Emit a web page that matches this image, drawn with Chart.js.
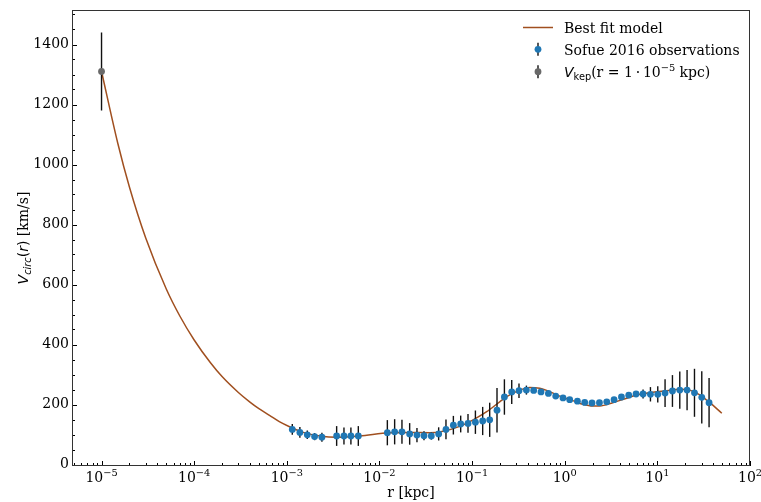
<!DOCTYPE html>
<html><head><meta charset="utf-8">
<script src="https://cdn.jsdelivr.net/npm/chart.js@4/dist/chart.umd.min.js"></script>
<style>html,body{margin:0;padding:0;background:#fff}#wrap{width:761px;height:502px}</style>
</head><body><div id="wrap"><canvas id="c" width="761" height="502"></canvas></div>
<script>
// ---- data ----
const sofueR = [0.001146,0.001384,0.001664,0.001995,0.002393,0.003451,0.004140,0.004920,0.005916,
  0.01217,0.01459,0.01750,0.02119,0.02541,0.03026,0.03631,0.04357,0.05226,0.06281,0.07534,0.09036,
  0.1086,0.1301,0.1549,0.1858,0.2233,0.2679,0.3209,0.3858,0.4625,0.5546,0.6668,0.7995,0.9586,
  1.132,1.371,1.644,1.971,2.369,2.842,3.408,4.096,4.911,5.888,7.010,8.420,10.10,12.11,14.55,17.46,
  20.93,25.16,30.16,36.16];
const sofueV = [117,107,99,93,91,95,95,95,95,
  106,109,109,102,98,96,95,102,117,131,135,137,
  141,145,149,181,225,242,246,248,247,242,237,228,222,
  216,211,207,205,206,209,216,225,231,235,235,234,234,238,245,248,
  248,239,224,206];
const sofueErr = [18,18,14,12,15,33,28,28,33,
  42,42,40,36,24,15,12,22,33,31,28,31,
  39,47,57,74,59,40,24,15,8,6,6,6,6,
  6,5,5,5,5,5,5,5,5,5,15,24,27,46,53,62,
  67,80,87,82];
const kepR = [1e-5];
const kepV = [1310];
const kepErr = [130];
const modelR = [1e-5,1.5e-5,2e-5,3e-5,5e-5,7e-5,1e-4,1.5e-4,2e-4,3e-4,4e-4,5e-4,6.5e-4,8.3e-4,
  1.07e-3,1.5e-3,2.38e-3,3.45e-3,6.1e-3,0.0129,0.0212,0.0348,0.0447,0.0735,0.1015,0.1438,0.1987,
  0.2366,0.3267,0.4188,0.537,0.689,0.883,1.22,1.564,2.006,2.387,3.30,4.67,6.46,8.92,12.6,17.5,
  22.4,28.7,36.8,49.6];
const modelV = [1310,1070,925,755,585,495,415,339,293,240,208,186,164,143,
  126,107,94,91,95,106,107,106,108,127,148,176,209,
  226,248,257,254,243,228,213,201,195,195,206,221,234,241,246,251,
  248,232,206,171];
const xTickExps = [-5,-4,-3,-2,-1,0,1,2];
const yTicks = [0,200,400,600,800,1000,1200,1400];

const BROWN = '#a04f1f', BLUE = '#1f77b4', GRAY = '#696969';

const errPlugin = {
  id:'errbars',
  beforeDatasetDraw(chart, args){
    const ds = chart.data.datasets[args.index];
    if(!ds.errs) return;
    const xs = chart.scales.x, ys = chart.scales.y, ctx = chart.ctx;
    ctx.save();
    ctx.strokeStyle = '#111'; ctx.lineWidth = 1.4;
    ds.data.forEach((p,i)=>{
      const px = xs.getPixelForValue(p.x);
      ctx.beginPath();
      ctx.moveTo(px, ys.getPixelForValue(p.y - ds.errs[i]));
      ctx.lineTo(px, ys.getPixelForValue(p.y + ds.errs[i]));
      ctx.stroke();
    });
    ctx.restore();
  }
};

function drawParts(ctx, parts, x, y){
  parts.forEach(p=>{ctx.font=p.f; ctx.fillText(p.t, x, y+(p.dy||0)); x += ctx.measureText(p.t).width;});
}
function partsWidth(ctx, parts){
  let w=0; parts.forEach(p=>{ctx.font=p.f; w+=ctx.measureText(p.t).width;}); return w;
}

const framePlugin = {
  id:'frame',
  afterDraw(chart){
    const ctx = chart.ctx, a = chart.chartArea, xs = chart.scales.x, ys = chart.scales.y;
    ctx.save();
    ctx.strokeStyle = '#000';
    ctx.lineWidth = 1;
    for(let e=-6; e<=2; e++){
      for(let k=1; k<=9; k++){
        const v = k*Math.pow(10,e);
        if(v < xs.min || v > xs.max) continue;
        const px = Math.round(xs.getPixelForValue(v))+0.5;
        const len = (k===1)?5:3;
        ctx.beginPath(); ctx.moveTo(px, a.bottom); ctx.lineTo(px, a.bottom-len); ctx.stroke();
      }
    }
    for(let v=0; v<=ys.max; v+=50){
      const py = Math.round(ys.getPixelForValue(v))+0.5;
      const len = (v%200===0)?5:3;
      ctx.beginPath(); ctx.moveTo(a.left, py); ctx.lineTo(a.left+len, py); ctx.stroke();
    }
    ctx.strokeStyle = '#333'; ctx.lineWidth = 1;
    ctx.strokeRect(a.left+0.5, a.top+0.5, a.right-a.left-1, a.bottom-a.top-1);

    ctx.fillStyle = '#000';
    ctx.textBaseline = 'alphabetic';
    // x tick labels: 10 with superscript exponent
    xTickExps.forEach(e=>{
      const px = xs.getPixelForValue(Math.pow(10,e));
      const parts = [
        {t:'10', f:'14px "DejaVu Serif"'},
        {t:(e<0?'\u2212':'')+Math.abs(e), f:'9.8px "DejaVu Serif"', dy:-6}
      ];
      drawParts(ctx, parts, px - partsWidth(ctx, parts)/2, 481.5);
    });

    // y axis label
    ctx.save();
    ctx.translate(28, (a.top+a.bottom)/2);
    ctx.rotate(-Math.PI/2);
    const yl = [
      {t:'V', f:'italic 14px "DejaVu Sans"'},
      {t:'circ', f:'italic 9.8px "DejaVu Sans"', dy:3},
      {t:'(', f:'14px "DejaVu Sans"'},
      {t:'r', f:'italic 14px "DejaVu Sans"'},
      {t:')', f:'14px "DejaVu Sans"'},
      {t:' [km/s]', f:'14px "DejaVu Serif"'}
    ];
    drawParts(ctx, yl, -partsWidth(ctx, yl)/2, 0);
    ctx.restore();

    // legend
    ctx.strokeStyle = BROWN; ctx.lineWidth = 1.5;
    ctx.beginPath(); ctx.moveTo(523, 27.5); ctx.lineTo(553, 27.5); ctx.stroke();
    const mk = (y, col)=>{
      ctx.strokeStyle='#111'; ctx.lineWidth=1.4;
      ctx.beginPath(); ctx.moveTo(538, y-6.5); ctx.lineTo(538, y+6.5); ctx.stroke();
      ctx.fillStyle=col; ctx.beginPath(); ctx.arc(538, y, 3.4, 0, 2*Math.PI); ctx.fill();
    };
    mk(49.3, BLUE); mk(71.7, GRAY);
    ctx.fillStyle = '#000';
    ctx.font = '14px "DejaVu Serif"';
    ctx.fillText('Best fit model', 564, 32.5);
    ctx.fillText('Sofue 2016 observations', 564, 54.5);
    drawParts(ctx, [
      {t:'V', f:'italic 14px "DejaVu Sans"'},
      {t:'kep', f:'9.8px "DejaVu Sans"', dy:3},
      {t:'(r = 1\u2009\u00B7\u200910', f:'14px "DejaVu Serif"'},
      {t:'\u22125', f:'9.8px "DejaVu Serif"', dy:-6},
      {t:' kpc)', f:'14px "DejaVu Serif"'}
    ], 564, 76.7);
    ctx.restore();
  }
};

new Chart(document.getElementById('c'), {
  type:'scatter',
  data:{
    datasets:[
      {label:'Sofue 2016 observations', data: sofueR.map((r,i)=>({x:r,y:sofueV[i]})), errs: sofueErr,
       pointRadius:3.4, pointBackgroundColor:BLUE, pointBorderWidth:0, pointBorderColor:BLUE, showLine:false},
      {label:'Vkep', data: kepR.map((r,i)=>({x:r,y:kepV[i]})), errs: kepErr,
       pointRadius:3.4, pointBackgroundColor:GRAY, pointBorderWidth:0, pointBorderColor:GRAY, showLine:false},
      {label:'Best fit model', type:'line', data: modelR.map((r,i)=>({x:r,y:modelV[i]})),
       borderColor:BROWN, borderWidth:1.5, pointRadius:0, showLine:true, fill:false,
       cubicInterpolationMode:'monotone'}
    ]
  },
  options:{
    responsive:false, animation:false, devicePixelRatio:1,
    layout:{padding:{top:10,right:11,bottom:0,left:0}},
    plugins:{legend:{display:false}, tooltip:{enabled:false}},
    scales:{
      x:{
        type:'logarithmic', min:4.8e-6, max:100,
        afterBuildTicks: s=>{ s.ticks = xTickExps.map(e=>({value:Math.pow(10,e)})); },
        ticks:{ display:false },
        grid:{display:false, drawTicks:false}, border:{display:false},
        title:{display:true, text:'r [kpc]', font:{family:'DejaVu Serif', size:14}, color:'#000', padding:{top:0,bottom:0}},
        afterFit: s=>{ s.height = 36; s.paddingLeft = 0; s.paddingRight = 0; }
      },
      y:{
        min:-5, max:1515,
        afterBuildTicks: s=>{ s.ticks = yTicks.map(v=>({value:v})); },
        ticks:{ callback:(v)=>String(v), font:{family:'DejaVu Serif', size:14}, color:'#000', padding:3, autoSkip:false },
        grid:{display:false, drawTicks:false}, border:{display:false},
        afterFit: s=>{ s.width = 72; s.paddingTop = 0; s.paddingBottom = 0; }
      }
    }
  },
  plugins:[errPlugin, framePlugin]
});
</script>
</body></html>
